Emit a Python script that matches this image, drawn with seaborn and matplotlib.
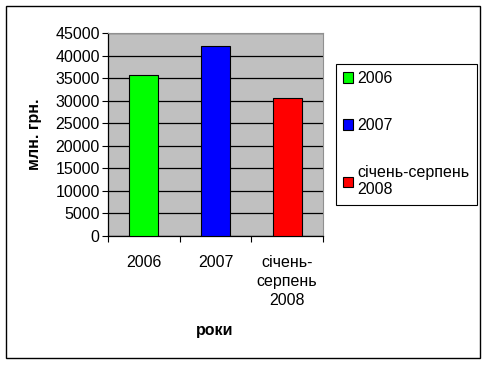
import numpy as np
import pandas as pd
import seaborn as sns
import matplotlib.pyplot as plt
from matplotlib.patches import Rectangle, Patch

categories = ["2006", "2007", "січень-серпень 2008"]
tick_labels = ["2006", "2007", "січень-\nсерпень\n2008"]
legend_labels = ["2006", "2007", "січень-серпень\n2008"]
values = [35800, 42200, 30500]
colors = ["#00FF00", "#0000FF", "#FF0000"]

sns.set_style("white")
plt.rcParams['font.family'] = ['Liberation Sans', 'DejaVu Sans']
plt.rcParams['text.color'] = 'black'
plt.rcParams['xtick.color'] = 'black'
plt.rcParams['ytick.color'] = 'black'

df = pd.DataFrame({"period": categories, "value": values})

fig = plt.figure(figsize=(4.87, 3.66), dpi=100)
ax = fig.add_axes([108/487, 1 - 236/366, 215/487, 203/366])
ax.set_facecolor("#C0C0C0")

sns.barplot(data=df, x="period", y="value", hue="period", palette=colors,
            saturation=1, width=0.4, edgecolor="black", linewidth=0.8,
            legend=False, ax=ax, zorder=3)

ax.set_ylim(0, 45000)
ax.set_xlim(-0.5, 2.5)
ax.set_yticks(np.arange(0, 45001, 5000))
ax.yaxis.grid(True, color="black", linewidth=0.9, zorder=1)
ax.set_axisbelow(True)
ax.tick_params(axis="y", direction="out", length=4, width=0.8, labelsize=11.5,
               pad=2, left=True, color="black")

ax.set_xticks([-0.5, 0.5, 1.5, 2.5])
ax.set_xticklabels([])
ax.set_xticks([0, 1, 2], minor=True)
ax.set_xticklabels(tick_labels, minor=True, fontsize=11.5, linespacing=1.3)
ax.tick_params(axis="x", which="major", direction="out", length=4, width=0.8,
               bottom=True, color="black")
ax.tick_params(axis="x", which="minor", length=0, pad=14)

for s in ["left", "bottom"]:
    ax.spines[s].set_color("black")
    ax.spines[s].set_linewidth(0.9)
for s in ["top", "right"]:
    ax.spines[s].set_color("#909090")
    ax.spines[s].set_linewidth(0.8)

ax.set_xlabel("")
ax.set_ylabel("")
fig.text(35/487, 1 - 134/366, "млн. грн.", rotation=90, fontsize=11.5,
         fontweight="bold", ha="center", va="center")
fig.text(215/487, 1 - 330/366, "роки", fontsize=11.5, fontweight="bold",
         ha="center", va="center")

handles = [Patch(facecolor=c, edgecolor="black", linewidth=0.8) for c in colors]
leg = fig.legend(handles, legend_labels, loc="upper left",
                 bbox_to_anchor=(336/487, 1 - 64/366), fontsize=11.5,
                 frameon=True, fancybox=False, framealpha=1, edgecolor="black",
                 handlelength=0.6, handleheight=0.6, handletextpad=0.3,
                 labelspacing=2.0, borderpad=0.45, borderaxespad=0)
leg.get_frame().set_linewidth(0.8)

fig.patches.append(Rectangle((6/487, 1 - 358/366), 474/487, 352/366,
                             transform=fig.transFigure, fill=False,
                             edgecolor="black", linewidth=1.0))

fig.savefig("out.png", dpi=100)
